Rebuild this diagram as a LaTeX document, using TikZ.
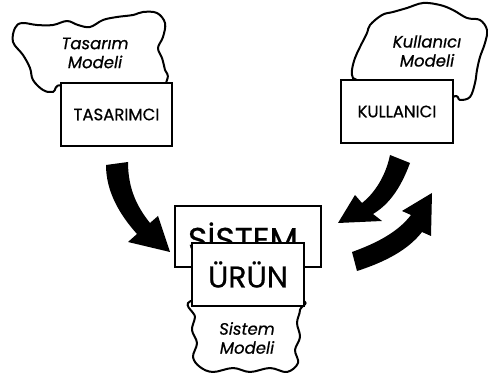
\documentclass[tikz,border=0pt]{standalone}
\usepackage{fontspec}
\setmainfont{Poppins}[FakeBold=0.6]
\begin{document}
\begin{tikzpicture}[x=1pt,y=-1pt,
  box/.style={draw=black, line width=1.8pt, fill=white, inner sep=0pt},
  cloudline/.style={draw=black, line width=2pt, fill=white, line join=round},
  cloudtext/.style={align=center, font=\fontsize{16.5}{19}\selectfont\itshape},
  boxtext/.style={font=\fontsize{16.5}{19}\selectfont},
  bigtext/.style={font=\fontsize{30}{34}\selectfont},
  fatarrow/.style={fill=black}]
\useasboundingbox (0,0) rectangle (488,379);

% cloud behind the designer box
\path[cloudline] plot[smooth cycle, tension=0.6] coordinates {
  (15,28) (22,23) (37,25) (53,25) (67,21) (78,25) (90,27) (103,20)
  (117,17) (133,15) (143,12) (157,13) (165,23) (163,37) (158,48)
  (162,58) (165,70) (167,80) (150,110) (100,110) (62,86) (53,92) (43,90)
  (33,80) (30,68) (23,55) (13,42)};
\node[cloudtext] (tmodel) at (95,53) {Tasarım\\Modeli};
\node[box, minimum width=111pt, minimum height=63pt] (tasarimci) at (116.5,114.5) {};
\node[boxtext] (tasarimcitext) at (tasarimci.center) {TASARIMCI};

% cloud behind the user box
\path[cloudline] plot[smooth cycle, tension=0.6] coordinates {
  (370,25) (382,15) (393,12) (407,8) (423,3) (440,5) (453,10) (467,18)
  (480,20) (487,30) (485,43) (480,57) (477,70) (475,83) (470,97)
  (460,100) (453,97) (420,120) (360,82) (353,78) (352,70) (355,58)
  (360,47) (367,33)};
\node[cloudtext] (kmodel) at (427,51) {Kullanıcı\\Modeli};
\node[box, minimum width=112pt, minimum height=63pt] (kullanici) at (397,111.5) {};
\node[boxtext] (kullanicitext) at (kullanici.center) {KULLANICI};

% system model cloud below the product box
\path[cloudline] plot[smooth cycle, tension=0.6] coordinates {
  (195,300) (195,317) (192,330) (197,343) (193,357) (200,367) (213,372)
  (233,368) (250,372) (270,368) (287,372) (298,363) (295,350) (300,337)
  (297,323) (300,310) (297,300)};
\node[cloudtext] (smodel) at (247,338) {Sistem\\Modeli};

% system box with the product box in front of it
\node[box, minimum width=146pt, minimum height=61pt] (sistem) at (248,236.5) {};
\node[font=\fontsize{33}{36}\selectfont, anchor=base] (sistemtext) at (243,251) {SİSTEM};
\node[box, minimum width=112pt, minimum height=63pt] (urun) at (248,274.5) {};
\node[bigtext] (uruntext) at (urun.center) {ÜRÜN};

% designer to system
\path[fatarrow] (106,165) -- (128,162) .. controls (128,190) and (138,208) .. (150,223)
  -- (158,216) -- (170,252) -- (128,242) -- (137,234)
  .. controls (120,215) and (106,192) .. cycle;

% user to system
\path[fatarrow] (390,155) -- (410,163) .. controls (400,190) and (388,205) .. (373,214)
  -- (382,221) -- (338,223) -- (355,195) -- (362,203)
  .. controls (375,193) and (386,175) .. cycle;

% system back to user
\path[fatarrow] (352,252) -- (357,271) .. controls (385,262) and (408,250) .. (422,232)
  -- (431,236) -- (432,193) -- (402,211) -- (411,215)
  .. controls (398,232) and (377,243) .. cycle;
\end{tikzpicture}
\end{document}
